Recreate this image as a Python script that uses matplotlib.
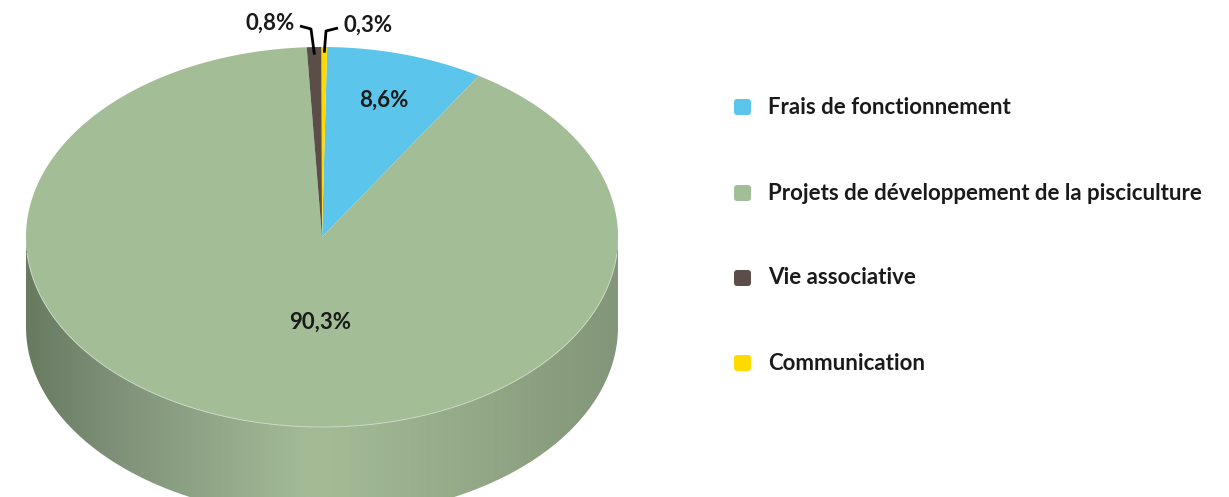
import numpy as np
import matplotlib
matplotlib.use("Agg")
import matplotlib.pyplot as plt
from matplotlib.patches import Polygon, FancyBboxPatch
from matplotlib.colors import LinearSegmentedColormap

# ---- data ----
categories = ["Frais de fonctionnement",
              "Projets de développement de la pisciculture",
              "Vie associative",
              "Communication"]
values = [8.6, 90.3, 0.8, 0.3]
colors = ["#5CC5EB", "#A3BD97", "#5B4E48", "#FFDA00"]

plt.rcParams['font.family'] = ['Lato', 'DejaVu Sans']

W, H = 1229, 497
fig = plt.figure(figsize=(W / 100, H / 100), dpi=100)
ax = fig.add_axes([0, 0, 1, 1])
ax.set_xlim(0, W)
ax.set_ylim(H, 0)
ax.axis('off')

# pie geometry (pixels)
cx, cy, rx, ry, depth = 322, 237, 296, 190, 90
start = 1.0  # degrees clockwise from 12 o'clock


def pt(theta_deg, r=1.0, dy=0.0):
    t = np.radians(theta_deg)
    return cx + r * rx * np.sin(t), cy - r * ry * np.cos(t) + dy


# ---- side (front) with horizontal gradient ----
th = np.linspace(90, 270, 200)
top_edge = np.array([pt(t) for t in th])
bot_edge = np.array([pt(t, dy=depth) for t in th[::-1]])
side_poly = Polygon(np.vstack([top_edge, bot_edge]), closed=True,
                    facecolor='none', edgecolor='none')
ax.add_patch(side_poly)
stops = [(0.00, "#687A60"), (0.16, "#80937A"), (0.33, "#93A889"),
         (0.47, "#A3BA95"), (0.52, "#A3BA95"), (0.72, "#96AC89"),
         (0.90, "#899D7E"), (1.00, "#83967A")]
cmap = LinearSegmentedColormap.from_list("side", stops)
grad = np.linspace(0, 1, 512).reshape(1, -1)
im = ax.imshow(grad, cmap=cmap, aspect='auto',
               extent=[cx - rx, cx + rx, cy + ry + depth + 5, cy - 5],
               interpolation='bilinear', zorder=1)
im.set_clip_path(side_poly)

# ---- top wedges ----
total = sum(values)
angles = [start]
for v in values:
    angles.append(angles[-1] + v / total * 360)
for i, (v, c) in enumerate(zip(values, colors)):
    a0, a1 = angles[i], angles[i + 1]
    ts = np.linspace(a0, a1, max(3, int((a1 - a0) * 2)))
    pts = [(cx, cy)] + [pt(t) for t in ts]
    ax.add_patch(Polygon(pts, closed=True, facecolor=c, edgecolor='none',
                         zorder=2))

# light rim line between top and side
rim = np.array([pt(t) for t in np.linspace(95, 265, 200)])
ax.plot(rim[:, 0], rim[:, 1], color="#CBD6C3", lw=0.7, zorder=3)

# ---- labels ----
fmt = [f"{v:.1f}%".replace('.', ',') for v in values]
fs = 16
ax.text(384, 100, fmt[0], ha='center', va='center', fontsize=fs,
        fontweight='bold', color='#1a1a1a', zorder=5)
ax.text(320, 322, fmt[1], ha='center', va='center', fontsize=fs,
        fontweight='bold', color='#1a1a1a', zorder=5)

# small slices with leader lines
mid2 = (angles[2] + angles[3]) / 2
mid3 = (angles[3] + angles[4]) / 2
e2 = pt(mid2, r=0.96)
e3 = pt(mid3, r=0.97)
ax.plot([300, 311, e2[0]], [26, 29, e2[1]], color='black', lw=2,
        solid_capstyle='butt', zorder=5)
ax.plot([338, 326, e3[0]], [28, 31, e3[1]], color='black', lw=2,
        solid_capstyle='butt', zorder=5)
ax.text(295, 23, fmt[2], ha='right', va='center', fontsize=fs,
        fontweight='bold', color='#1a1a1a', zorder=5)
ax.text(344, 25, fmt[3], ha='left', va='center', fontsize=fs,
        fontweight='bold', color='#1a1a1a', zorder=5)

# ---- legend ----
ly = [107, 193, 278, 363]
for y, c, lab in zip(ly, colors, categories):
    ax.add_patch(FancyBboxPatch((734, y - 8), 17, 16,
                                boxstyle="round,pad=0,rounding_size=3",
                                facecolor=c, edgecolor='none'))
    ax.text(768, y, lab, ha='left', va='center', fontsize=fs,
            fontweight='bold', color='#1a1a1a')

fig.savefig("out.png", dpi=100)
